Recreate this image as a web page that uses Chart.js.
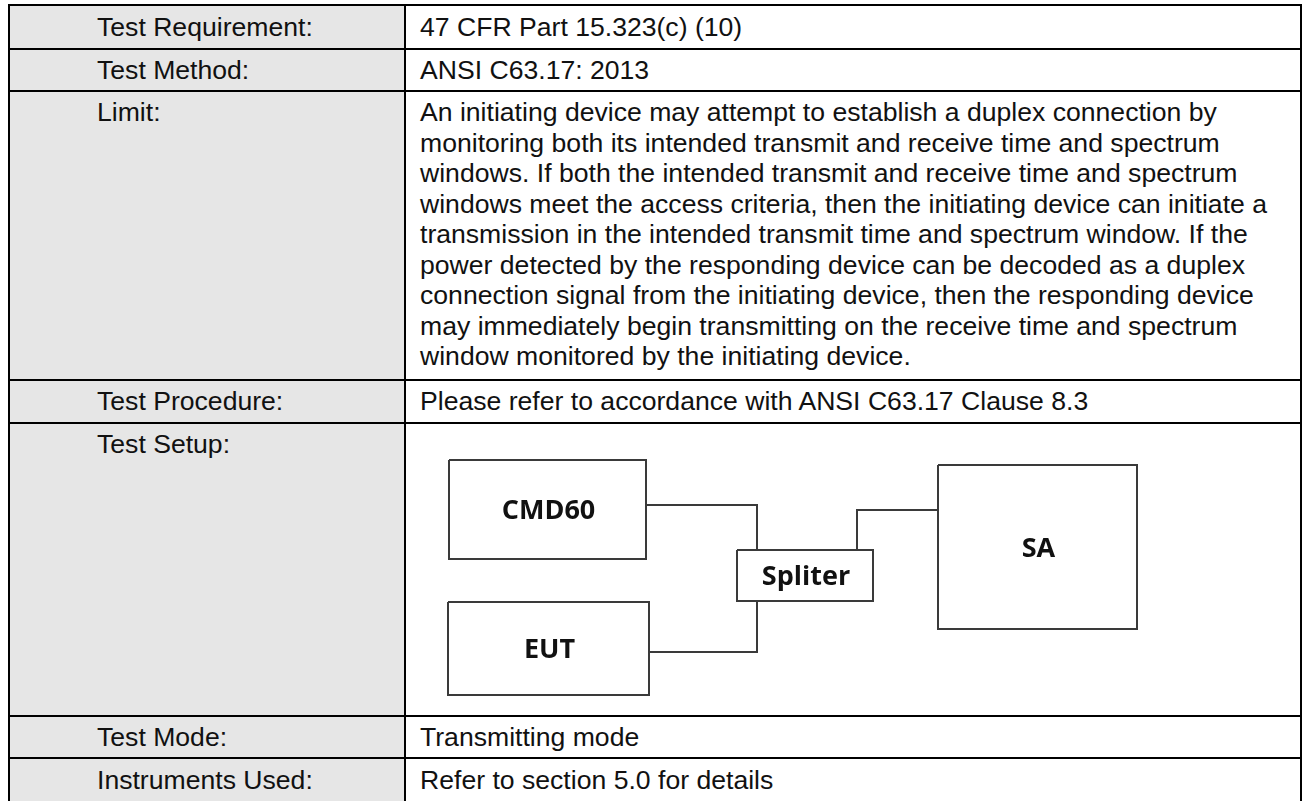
<!DOCTYPE html>
<html lang="en">
<head>
<meta charset="UTF-8">
<title>Test Setup</title>
<script src="https://cdn.jsdelivr.net/npm/chart.js"></script>
<style>
    body {
        margin: 0;
        background: #fff;
        font-family: "Liberation Sans", Arial, sans-serif;
        font-size: 26.6px;
        color: #111;
        overflow: hidden;
    }

    #sheet {
        position: absolute;
        left: 8px;
        top: 4px;
        display: grid;
        grid-template-columns: 396px 896px;
        grid-template-rows: 44px 42px 289px 43px 293px 42px 45px;
        border-top: 2px solid #000;
        border-left: 2px solid #000;
    }

    .cell {
        box-sizing: border-box;
        border-right: 2px solid #000;
        border-bottom: 2px solid #000;
        display: flex;
        align-items: center;
        line-height: 30.5px;
        white-space: nowrap;
    }

    .label {
        background: #e6e6e6;
        padding-left: 87px;
    }

    .value {
        padding-left: 14px;
    }

    .top {
        align-items: flex-start;
        padding-top: 5px;
    }

    .setup {
        position: relative;
        padding: 0;
    }

    #setupChart {
        position: absolute;
        left: 0;
        top: 0;
    }
</style>
</head>
<body>
<div id="sheet"></div>

<script>
    // table rows
    const rowLabels = ['Test Requirement:', 'Test Method:', 'Limit:', 'Test Procedure:', 'Test Setup:', 'Test Mode:', 'Instruments Used:'];
    const limitLines = [
        'An initiating device may attempt to establish a duplex connection by',
        'monitoring both its intended transmit and receive time and spectrum',
        'windows. If both the intended transmit and receive time and spectrum',
        'windows meet the access criteria, then the initiating device can initiate a',
        'transmission in the intended transmit time and spectrum window. If the',
        'power detected by the responding device can be decoded as a duplex',
        'connection signal from the initiating device, then the responding device',
        'may immediately begin transmitting on the receive time and spectrum',
        'window monitored by the initiating device.'
    ];
    const rowValues = ['47 CFR Part 15.323(c) (10)', 'ANSI C63.17: 2013', limitLines, 'Please refer to accordance with ANSI C63.17 Clause 8.3', null, 'Transmitting mode', 'Refer to section 5.0 for details'];

    // setup diagram (units = px inside the setup cell)
    const boxNames = ['CMD60', 'EUT', 'Spliter', 'SA'];
    const boxX = [[43, 240], [42, 243], [331, 467], [532, 731]];
    const boxY = [[36, 135], [178, 271], [126, 177], [41, 205]];
    const linkPaths = [
        [[240, 81], [351, 81], [351, 126]],
        [[243, 228], [351, 228], [351, 177]],
        [[451, 126], [451, 86], [532, 86]]
    ];

    const sheet = document.getElementById('sheet');
    rowLabels.forEach((lab, i) => {
        const multi = Array.isArray(rowValues[i]) || rowValues[i] === null;
        const l = document.createElement('div');
        l.className = 'cell label' + (multi ? ' top' : '');
        l.textContent = lab;
        sheet.appendChild(l);

        const v = document.createElement('div');
        if (rowValues[i] === null) {
            v.className = 'cell setup';
            const c = document.createElement('canvas');
            c.id = 'setupChart';
            c.width = 894;
            c.height = 291;
            v.appendChild(c);
        } else if (Array.isArray(rowValues[i])) {
            v.className = 'cell value top';
            v.innerHTML = rowValues[i].join('<br>');
        } else {
            v.className = 'cell value';
            v.textContent = rowValues[i];
        }
        sheet.appendChild(v);
    });

    const datasets = [];
    boxNames.forEach((name, i) => {
        const [x0, x1] = boxX[i];
        const [y0, y1] = boxY[i];
        datasets.push({
            label: name,
            data: [{x: x0, y: y0}, {x: x1, y: y0}, {x: x1, y: y1}, {x: x0, y: y1}, {x: x0, y: y0}]
        });
    });
    linkPaths.forEach((p, i) => {
        datasets.push({
            label: 'link' + i,
            data: p.map(pt => ({x: pt[0], y: pt[1]}))
        });
    });
    datasets.forEach(ds => {
        ds.showLine = true;
        ds.borderColor = '#3a3a3a';
        ds.borderWidth = 2;
        ds.pointRadius = 0;
        ds.fill = false;
    });

    // box captions
    const boxLabels = {
        id: 'boxLabels',
        afterDatasetsDraw(chart) {
            const ctx = chart.ctx;
            const xs = chart.scales.x, ys = chart.scales.y;
            ctx.save();
            ctx.font = 'bold 27px "Open Sans", sans-serif';
            ctx.fillStyle = '#111';
            ctx.textAlign = 'center';
            ctx.textBaseline = 'middle';
            boxNames.forEach((name, i) => {
                const cx = (boxX[i][0] + boxX[i][1]) / 2;
                const cy = (boxY[i][0] + boxY[i][1]) / 2;
                ctx.fillText(name, xs.getPixelForValue(cx) + 1, ys.getPixelForValue(cy) + 2);
            });
            ctx.restore();
        }
    };

    new Chart(document.getElementById('setupChart'), {
        type: 'scatter',
        data: {datasets: datasets},
        options: {
            responsive: false,
            animation: false,
            layout: {padding: 0},
            scales: {
                x: {type: 'linear', min: 0, max: 894, display: false},
                y: {type: 'linear', min: 0, max: 291, reverse: true, display: false}
            },
            plugins: {
                legend: {display: false},
                tooltip: {enabled: false}
            }
        },
        plugins: [boxLabels]
    });
</script>
</body>
</html>
